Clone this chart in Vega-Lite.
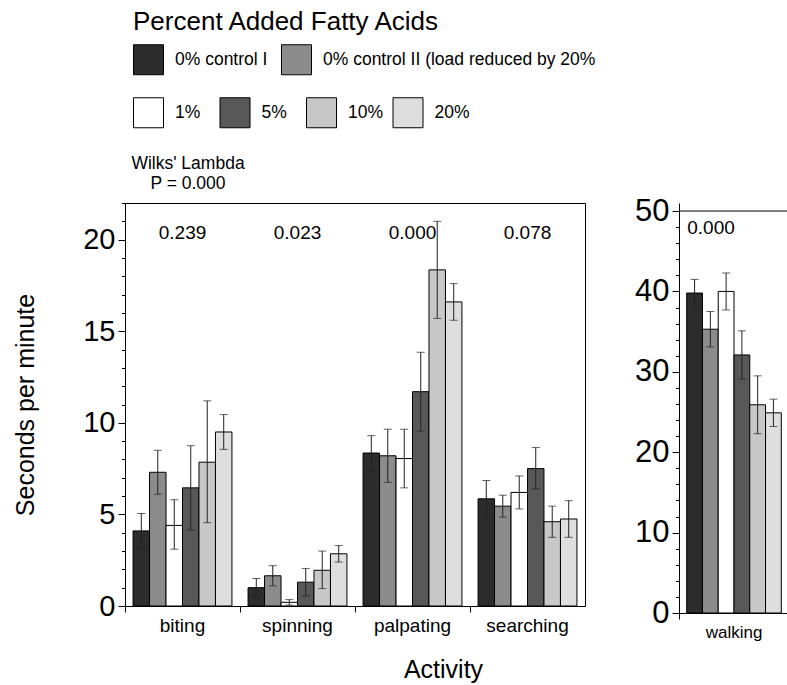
{
  "$schema": "https://vega.github.io/schema/vega-lite/v6.json",
  "bounds": "flush",
  "spacing": 94,
  "padding": {"left": 13, "top": 8, "right": 0, "bottom": 2},
  "config": {
    "font": "Liberation Sans",
    "view": {"stroke": "black", "strokeWidth": 1},
    "axis": {"domainColor": "black", "tickColor": "black", "labelColor": "black", "titleColor": "black", "grid": false, "titleFontWeight": "normal", "domainWidth": 1, "tickWidth": 1, "labelOverlap": false, "labelFlush": false},
    "legend": {"labelColor": "black", "titleColor": "black"},
    "title": {"color": "black"},
    "text": {"color": "black"}
  },
  "datasets": {
    "left": [
      {"activity": "biting", "group": "0% control I", "value": 4.1, "lo": 3.15, "hi": 5.05},
      {"activity": "biting", "group": "0% control II (load reduced by 20%", "value": 7.3, "lo": 6.1, "hi": 8.5},
      {"activity": "biting", "group": "1%", "value": 4.4, "lo": 3.1, "hi": 5.8},
      {"activity": "biting", "group": "5%", "value": 6.45, "lo": 4.15, "hi": 8.75},
      {"activity": "biting", "group": "10%", "value": 7.85, "lo": 4.55, "hi": 11.2},
      {"activity": "biting", "group": "20%", "value": 9.5, "lo": 8.55, "hi": 10.45},
      {"activity": "spinning", "group": "0% control I", "value": 1.0, "lo": 0.5, "hi": 1.5},
      {"activity": "spinning", "group": "0% control II (load reduced by 20%", "value": 1.65, "lo": 1.1, "hi": 2.2},
      {"activity": "spinning", "group": "1%", "value": 0.2, "lo": 0.05, "hi": 0.35},
      {"activity": "spinning", "group": "5%", "value": 1.3, "lo": 0.55, "hi": 2.05},
      {"activity": "spinning", "group": "10%", "value": 1.95, "lo": 0.95, "hi": 3.0},
      {"activity": "spinning", "group": "20%", "value": 2.85, "lo": 2.4, "hi": 3.3},
      {"activity": "palpating", "group": "0% control I", "value": 8.35, "lo": 7.4, "hi": 9.3},
      {"activity": "palpating", "group": "0% control II (load reduced by 20%", "value": 8.2, "lo": 6.75, "hi": 9.65},
      {"activity": "palpating", "group": "1%", "value": 8.05, "lo": 6.45, "hi": 9.65},
      {"activity": "palpating", "group": "5%", "value": 11.7, "lo": 9.55, "hi": 13.85},
      {"activity": "palpating", "group": "10%", "value": 18.35, "lo": 15.7, "hi": 21.0},
      {"activity": "palpating", "group": "20%", "value": 16.6, "lo": 15.6, "hi": 17.6},
      {"activity": "searching", "group": "0% control I", "value": 5.85, "lo": 4.85, "hi": 6.85},
      {"activity": "searching", "group": "0% control II (load reduced by 20%", "value": 5.45, "lo": 4.85, "hi": 6.05},
      {"activity": "searching", "group": "1%", "value": 6.2, "lo": 5.3, "hi": 7.1},
      {"activity": "searching", "group": "5%", "value": 7.5, "lo": 6.4, "hi": 8.65},
      {"activity": "searching", "group": "10%", "value": 4.6, "lo": 3.75, "hi": 5.45},
      {"activity": "searching", "group": "20%", "value": 4.75, "lo": 3.75, "hi": 5.75}
    ],
    "walk": [
      {"activity": "walking", "group": "0% control I", "value": 39.8, "lo": 38.1, "hi": 41.5},
      {"activity": "walking", "group": "0% control II (load reduced by 20%", "value": 35.3, "lo": 33.1, "hi": 37.5},
      {"activity": "walking", "group": "1%", "value": 40.0, "lo": 37.7, "hi": 42.3},
      {"activity": "walking", "group": "5%", "value": 32.1, "lo": 29.1, "hi": 35.1},
      {"activity": "walking", "group": "10%", "value": 25.9, "lo": 22.3, "hi": 29.5},
      {"activity": "walking", "group": "20%", "value": 24.9, "lo": 23.2, "hi": 26.6}
    ],
    "pleft": [
      {"activity": "biting", "p": "0.239"},
      {"activity": "spinning", "p": "0.023"},
      {"activity": "palpating", "p": "0.000"},
      {"activity": "searching", "p": "0.078"}
    ],
    "pwalk": [
      {"activity": "walking", "p": "0.000"}
    ]
  },
  "resolve": {"scale": {"color": "independent", "fill": "independent", "x": "independent", "y": "independent", "xOffset": "independent"}},
  "hconcat": [
    {
      "width": 460,
      "height": 403,
      "title": {"text": ["Wilks' Lambda", "P = 0.000"], "anchor": "start", "frame": "group", "align": "center", "dx": 63, "dy": 199, "fontSize": 17.5, "fontWeight": "normal", "offset": 16, "lineHeight": 19.5},
      "layer": [
        {
          "data": {"name": "left"},
          "transform": [{"filter": {"field": "group", "oneOf": ["0% control I", "0% control II (load reduced by 20%"]}}],
          "mark": {"type": "bar", "stroke": "black", "strokeWidth": 1},
          "encoding": {
            "x": {"field": "activity", "type": "nominal", "scale": {"domain": ["biting", "spinning", "palpating", "searching"], "paddingInner": 0.14, "paddingOuter": 0.07},
              "axis": {"title": "Activity", "titleX": 318, "titleY": 71, "titleBaseline": "alphabetic", "titleFontSize": 25, "labelFontSize": 19, "labelAngle": 0, "labelPadding": 4, "tickSize": 6, "bandPosition": -0.0808}},
            "xOffset": {"field": "group", "type": "nominal", "scale": {"domain": ["0% control I", "0% control II (load reduced by 20%", "1%", "5%", "10%", "20%"], "paddingInner": 0, "paddingOuter": 0}},
            "y": {"field": "value", "type": "quantitative", "scale": {"domain": [0, 22], "nice": false, "zero": true},
              "axis": {"title": "Seconds per minute", "titleFontSize": 25, "titlePadding": 44, "tickCount": 200, "format": "d", "values": [0,1,2,3,4,5,6,7,8,9,10,11,12,13,14,15,16,17,18,19,20,21,22], "labelExpr": "datum.value % 5 === 0 ? datum.label : ''", "labelFontSize": {"condition": {"test": "datum.value % 5 === 0", "value": 29}, "value": 0}, "labelOverlap": false, "labelFlush": false, "labelPadding": 3, "tickSize": {"condition": {"test": "datum.value % 5 === 0", "value": 7}, "value": 3.5}}},
            "color": {"field": "group", "type": "nominal", "scale": {"domain": ["0% control I", "0% control II (load reduced by 20%"], "range": ["#2c2c2c", "#8c8c8c"]},
              "legend": {"title": "Percent Added Fatty Acids", "orient": "none", "legendX": 8, "legendY": -194, "direction": "horizontal", "symbolType": "square", "symbolSize": 900, "symbolStrokeColor": "black", "symbolStrokeWidth": 1, "labelFontSize": 17.5, "labelOffset": 11, "columnPadding": 11, "titleFontSize": 26, "titleFontWeight": "normal", "titlePadding": 9, "gridAlign": "each", "padding": 0, "titleLimit": 600, "labelLimit": 500}}
          }
        },
        {
          "data": {"name": "left"},
          "transform": [{"filter": {"field": "group", "oneOf": ["1%", "5%", "10%", "20%"]}}],
          "mark": {"type": "bar", "stroke": "black", "strokeWidth": 1},
          "encoding": {
            "x": {"field": "activity", "type": "nominal", "scale": {"domain": ["biting", "spinning", "palpating", "searching"], "paddingInner": 0.14, "paddingOuter": 0.07}},
            "xOffset": {"field": "group", "type": "nominal", "scale": {"domain": ["0% control I", "0% control II (load reduced by 20%", "1%", "5%", "10%", "20%"], "paddingInner": 0, "paddingOuter": 0}},
            "y": {"field": "value", "type": "quantitative", "scale": {"domain": [0, 22], "nice": false}},
            "fill": {"field": "group", "type": "nominal", "scale": {"domain": ["1%", "5%", "10%", "20%"], "range": ["#ffffff", "#585858", "#c8c8c8", "#dedede"]},
              "legend": {"title": null, "orient": "none", "legendX": 8, "legendY": -106, "direction": "horizontal", "symbolType": "square", "symbolSize": 900, "symbolStrokeColor": "black", "symbolStrokeWidth": 1, "labelFontSize": 17.5, "labelOffset": 11, "columnPadding": 6.5, "gridAlign": "all", "padding": 0, "labelLimit": 500}}
          }
        },
        {
          "data": {"name": "left"},
          "mark": {"type": "rule", "color": "#222222", "strokeWidth": 1},
          "encoding": {
            "x": {"field": "activity", "type": "nominal", "scale": {"domain": ["biting", "spinning", "palpating", "searching"], "paddingInner": 0.14, "paddingOuter": 0.07}},
            "xOffset": {"field": "group", "type": "nominal", "scale": {"domain": ["0% control I", "0% control II (load reduced by 20%", "1%", "5%", "10%", "20%"], "paddingInner": 0, "paddingOuter": 0}},
            "y": {"field": "lo", "type": "quantitative", "scale": {"domain": [0, 22], "nice": false}},
            "y2": {"field": "hi"}
          }
        },
        {
          "data": {"name": "left"},
          "mark": {"type": "tick", "color": "#222222", "size": 8, "thickness": 1, "orient": "horizontal"},
          "encoding": {
            "x": {"field": "activity", "type": "nominal", "scale": {"domain": ["biting", "spinning", "palpating", "searching"], "paddingInner": 0.14, "paddingOuter": 0.07}},
            "xOffset": {"field": "group", "type": "nominal", "scale": {"domain": ["0% control I", "0% control II (load reduced by 20%", "1%", "5%", "10%", "20%"], "paddingInner": 0, "paddingOuter": 0}},
            "y": {"field": "hi", "type": "quantitative", "scale": {"domain": [0, 22], "nice": false}}
          }
        },
        {
          "data": {"name": "left"},
          "mark": {"type": "tick", "color": "#222222", "size": 8, "thickness": 1, "orient": "horizontal"},
          "encoding": {
            "x": {"field": "activity", "type": "nominal", "scale": {"domain": ["biting", "spinning", "palpating", "searching"], "paddingInner": 0.14, "paddingOuter": 0.07}},
            "xOffset": {"field": "group", "type": "nominal", "scale": {"domain": ["0% control I", "0% control II (load reduced by 20%", "1%", "5%", "10%", "20%"], "paddingInner": 0, "paddingOuter": 0}},
            "y": {"field": "lo", "type": "quantitative", "scale": {"domain": [0, 22], "nice": false}}
          }
        },
        {
          "data": {"name": "pleft"},
          "mark": {"type": "text", "fontSize": 19, "baseline": "middle", "align": "center"},
          "encoding": {
            "x": {"field": "activity", "type": "nominal", "scale": {"domain": ["biting", "spinning", "palpating", "searching"], "paddingInner": 0.14, "paddingOuter": 0.07}},
            "y": {"datum": 20.38, "type": "quantitative", "scale": {"domain": [0, 22], "nice": false}},
            "text": {"field": "p"}
          }
        }
      ]
    },
    {
      "width": 110,
      "height": 410,
      "view": {"stroke": null},
      "layer": [
        {
          "data": {"name": "walk"},
          "transform": [{"filter": {"field": "group", "oneOf": ["0% control I", "0% control II (load reduced by 20%"]}}],
          "mark": {"type": "bar", "stroke": "black", "strokeWidth": 1},
          "encoding": {
            "x": {"field": "activity", "type": "nominal", "scale": {"domain": ["walking"], "paddingInner": 0.14, "paddingOuter": 0.07},
              "axis": {"title": null, "labelFontSize": 17, "labelAngle": 0, "labelPadding": 5, "tickSize": 6, "bandPosition": -0.0808}},
            "xOffset": {"field": "group", "type": "nominal", "scale": {"domain": ["0% control I", "0% control II (load reduced by 20%", "1%", "5%", "10%", "20%"], "paddingInner": 0, "paddingOuter": 0}},
            "y": {"field": "value", "type": "quantitative", "scale": {"domain": [0, 51], "nice": false},
              "axis": {"title": null, "tickCount": 200, "format": "d", "values": [0,2,4,6,8,10,12,14,16,18,20,22,24,26,28,30,32,34,36,38,40,42,44,46,48,50], "labelExpr": "datum.value % 10 === 0 ? datum.label : ''", "labelFontSize": {"condition": {"test": "datum.value % 10 === 0", "value": 31}, "value": 0}, "labelOverlap": false, "labelFlush": false, "labelPadding": 3, "tickSize": {"condition": {"test": "datum.value % 10 === 0", "value": 7}, "value": 3.5}}},
            "color": {"field": "group", "type": "nominal", "scale": {"domain": ["0% control I", "0% control II (load reduced by 20%"], "range": ["#2c2c2c", "#8c8c8c"]}, "legend": null}
          }
        },
        {
          "data": {"name": "walk"},
          "transform": [{"filter": {"field": "group", "oneOf": ["1%", "5%", "10%", "20%"]}}],
          "mark": {"type": "bar", "stroke": "black", "strokeWidth": 1},
          "encoding": {
            "x": {"field": "activity", "type": "nominal", "scale": {"domain": ["walking"], "paddingInner": 0.14, "paddingOuter": 0.07}},
            "xOffset": {"field": "group", "type": "nominal", "scale": {"domain": ["0% control I", "0% control II (load reduced by 20%", "1%", "5%", "10%", "20%"], "paddingInner": 0, "paddingOuter": 0}},
            "y": {"field": "value", "type": "quantitative", "scale": {"domain": [0, 51], "nice": false}},
            "fill": {"field": "group", "type": "nominal", "scale": {"domain": ["1%", "5%", "10%", "20%"], "range": ["#ffffff", "#585858", "#c8c8c8", "#dedede"]}, "legend": null}
          }
        },
        {
          "data": {"name": "walk"},
          "mark": {"type": "rule", "color": "#222222", "strokeWidth": 1},
          "encoding": {
            "x": {"field": "activity", "type": "nominal", "scale": {"domain": ["walking"], "paddingInner": 0.14, "paddingOuter": 0.07}},
            "xOffset": {"field": "group", "type": "nominal", "scale": {"domain": ["0% control I", "0% control II (load reduced by 20%", "1%", "5%", "10%", "20%"], "paddingInner": 0, "paddingOuter": 0}},
            "y": {"field": "lo", "type": "quantitative", "scale": {"domain": [0, 51], "nice": false}},
            "y2": {"field": "hi"}
          }
        },
        {
          "data": {"name": "walk"},
          "mark": {"type": "tick", "color": "#222222", "size": 8, "thickness": 1, "orient": "horizontal"},
          "encoding": {
            "x": {"field": "activity", "type": "nominal", "scale": {"domain": ["walking"], "paddingInner": 0.14, "paddingOuter": 0.07}},
            "xOffset": {"field": "group", "type": "nominal", "scale": {"domain": ["0% control I", "0% control II (load reduced by 20%", "1%", "5%", "10%", "20%"], "paddingInner": 0, "paddingOuter": 0}},
            "y": {"field": "hi", "type": "quantitative", "scale": {"domain": [0, 51], "nice": false}}
          }
        },
        {
          "data": {"name": "walk"},
          "mark": {"type": "tick", "color": "#222222", "size": 8, "thickness": 1, "orient": "horizontal"},
          "encoding": {
            "x": {"field": "activity", "type": "nominal", "scale": {"domain": ["walking"], "paddingInner": 0.14, "paddingOuter": 0.07}},
            "xOffset": {"field": "group", "type": "nominal", "scale": {"domain": ["0% control I", "0% control II (load reduced by 20%", "1%", "5%", "10%", "20%"], "paddingInner": 0, "paddingOuter": 0}},
            "y": {"field": "lo", "type": "quantitative", "scale": {"domain": [0, 51], "nice": false}}
          }
        },
        {
          "data": {"name": "pwalk"},
          "mark": {"type": "text", "fontSize": 19, "baseline": "middle", "align": "center", "dx": -23},
          "encoding": {
            "x": {"field": "activity", "type": "nominal", "scale": {"domain": ["walking"], "paddingInner": 0.14, "paddingOuter": 0.07}},
            "y": {"datum": 47.9, "type": "quantitative", "scale": {"domain": [0, 51], "nice": false}},
            "text": {"field": "p"}
          }
        },
        {
          "data": {"values": [{}]},
          "mark": {"type": "rule", "color": "black", "strokeWidth": 1},
          "encoding": {
            "y": {"datum": 50, "type": "quantitative", "scale": {"domain": [0, 51], "nice": false}}
          }
        }
      ]
    }
  ]
}
